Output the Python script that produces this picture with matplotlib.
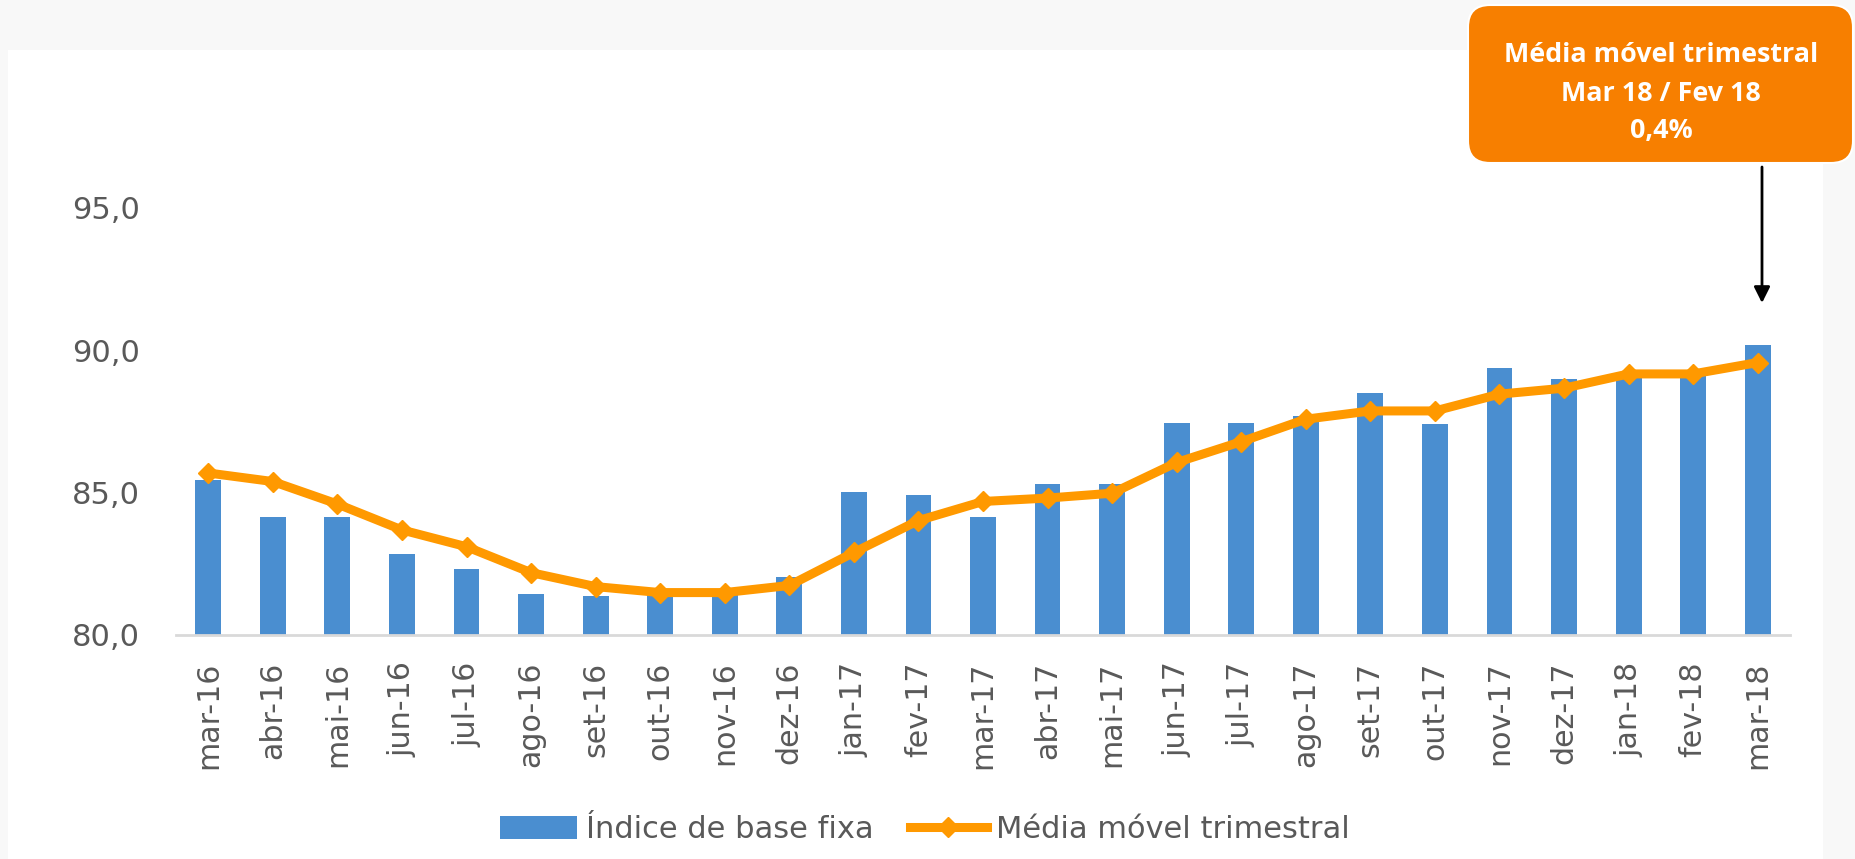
import matplotlib
matplotlib.use("Agg")
import matplotlib.pyplot as plt
from matplotlib.patches import FancyBboxPatch, Rectangle
from matplotlib.transforms import IdentityTransform

categories = ["mar-16", "abr-16", "mai-16", "jun-16", "jul-16", "ago-16", "set-16",
              "out-16", "nov-16", "dez-16", "jan-17", "fev-17", "mar-17", "abr-17",
              "mai-17", "jun-17", "jul-17", "ago-17", "set-17", "out-17", "nov-17",
              "dez-17", "jan-18", "fev-18", "mar-18"]
indice_base_fixa = [85.44, 84.15, 84.15, 82.86, 82.32, 81.44, 81.37, 81.55, 81.5, 82.03,
                    85.02, 84.9, 84.15, 85.31, 85.31, 87.43, 87.43, 87.7, 88.5, 87.41,
                    89.39, 89.0, 89.2, 89.2, 90.2]
media_movel = [85.69, 85.39, 84.6, 83.69, 83.1, 82.19, 81.7, 81.49, 81.49, 81.74,
               82.9, 84.02, 84.69, 84.81, 84.98, 86.06, 86.79, 87.58, 87.87, 87.87,
               88.46, 88.67, 89.17, 89.17, 89.57]
yticks = [80, 85, 90, 95]
ytick_labels = ["80,0", "85,0", "90,0", "95,0"]
series_names = ["Índice de base fixa", "Média móvel trimestral"]
callout_lines = ["Média móvel trimestral", "Mar 18 / Fev 18", "0,4%"]

W, H = 1855, 859
fig = plt.figure(figsize=(W / 100, H / 100), dpi=100)
fig.patch.set_facecolor("#f8f8f8")

# white chart panel
fig.add_artist(Rectangle((8 / W, 0), (1823 - 8) / W, (H - 50) / H,
                         transform=fig.transFigure, facecolor="white",
                         edgecolor="none", zorder=0))

ax = fig.add_axes([176 / W, 224 / H, (1790 - 176) / W, 484 / H])
ax.set_facecolor("none")
x = list(range(len(categories)))
bars = ax.bar(x, indice_base_fixa, width=0.40, color="#4a8ed0", zorder=2,
              label=series_names[0])
line, = ax.plot(x, media_movel, color="#ff9900", lw=6.5, marker="D", ms=10,
                zorder=3, label=series_names[1], solid_joinstyle="round")
ax.set_xlim(-0.5, len(categories) - 0.5)
ax.set_ylim(80, 97)
ax.set_yticks(yticks)
ax.set_yticklabels(ytick_labels)
ax.set_xticks(x)
ax.set_xticklabels(categories, rotation=90)
for s in ["top", "right", "left"]:
    ax.spines[s].set_visible(False)
ax.spines["bottom"].set_color("#d9d9d9")
ax.spines["bottom"].set_linewidth(2)
ax.spines["bottom"].set_zorder(4)
ax.tick_params(axis="y", length=0, pad=26, labelsize=22, labelcolor="#595959")
ax.tick_params(axis="x", length=0, pad=19, labelsize=21.7, labelcolor="#595959")

leg = fig.legend([bars, line], series_names, loc="center",
                 bbox_to_anchor=(925 / W, 29 / H), ncol=2,
                 frameon=False, fontsize=22, handlelength=2.5, handleheight=0.77,
                 handletextpad=0.3, columnspacing=1.2)
for t in leg.get_texts():
    t.set_color("#595959")

# callout box
box = FancyBboxPatch((1468, H - 163), 1853 - 1468, 158,
                     boxstyle="round,pad=0,rounding_size=22",
                     transform=IdentityTransform(), facecolor="#f77f00",
                     edgecolor="white", lw=1.5, zorder=5)
fig.add_artist(box)
baselines = [62, 101, 138]
for txt, b in zip(callout_lines, baselines):
    fig.text(1661 / W, (H - b) / H, txt, ha="center", va="baseline",
             color="white", fontsize=19.4, fontweight="bold", family="Open Sans",
             zorder=6)

ax.annotate("", xy=(1762, H - 303), xycoords="figure pixels",
            xytext=(1762, H - 167), textcoords="figure pixels",
            arrowprops=dict(arrowstyle="-|>", color="black", lw=2,
                            mutation_scale=24, shrinkA=0, shrinkB=0))

fig.savefig("out.png", dpi=100, facecolor=fig.get_facecolor())
